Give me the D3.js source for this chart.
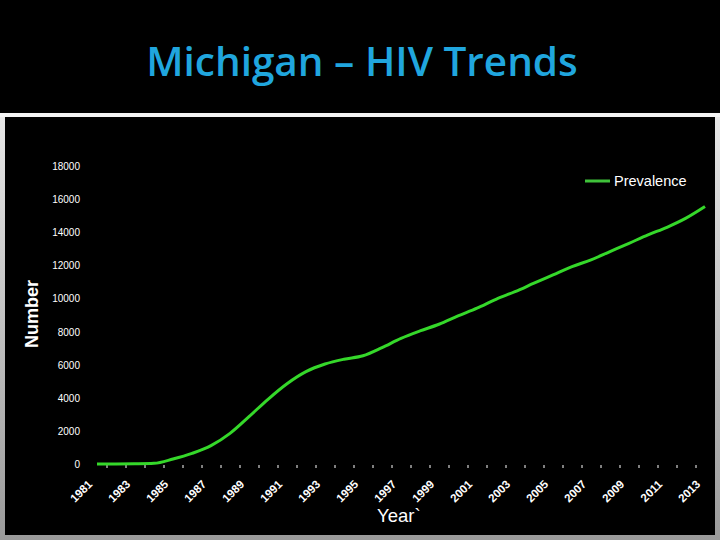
<!DOCTYPE html>
<html><head><meta charset="utf-8">
<script src="https://cdn.jsdelivr.net/npm/d3@7/dist/d3.min.js"></script>
<style>html,body{margin:0;padding:0;background:#000;}svg{display:block;}</style>
</head><body>
<svg id="c" width="720" height="540"></svg>
<script>
const title = "Michigan – HIV Trends";
const years = d3.range(1981, 2014);
const prevalence = [0, 0, 10, 40, 300, 640, 1110, 1850, 2860, 3910, 4850, 5580, 6040, 6330, 6540, 7030, 7590, 8040, 8440, 8940, 9410, 9950, 10410, 10920, 11420, 11920, 12330, 12830, 13330, 13840, 14300, 14850, 15550];
const yTicks = [0, 2000, 4000, 6000, 8000, 10000, 12000, 14000, 16000, 18000];
const xLabels = d3.range(1981, 2014, 2);
const seriesName = "Prevalence";
const yTitle = "Number";
const xTitle = "Year`";

const svg = d3.select("#c");
const defs = svg.append("defs");
const g1 = defs.append("linearGradient").attr("id","frame").attr("x1",0).attr("y1",0).attr("x2",0).attr("y2",1);
g1.append("stop").attr("offset","0%").attr("stop-color","#e8e8e8");
g1.append("stop").attr("offset","100%").attr("stop-color","#9a9a9a");

svg.append("rect").attr("x",0).attr("y",0).attr("width",720).attr("height",540).attr("fill","#000");
svg.append("text").attr("x",362).attr("y",76).attr("text-anchor","middle")
  .attr("font-family","'Open Sans', sans-serif").attr("font-weight",600).attr("font-size",40.5)
  .attr("fill","#20a6de").text(title);

// frame
svg.append("rect").attr("x",0).attr("y",113).attr("width",720).attr("height",427).attr("fill","url(#frame)");
svg.append("rect").attr("x",0).attr("y",113).attr("width",720).attr("height",4).attr("fill","#f4f4f4");
svg.append("rect").attr("x",5).attr("y",117).attr("width",710).attr("height",418).attr("fill","#000");

const x = d3.scaleLinear().domain([1981, 2013]).range([97, 705]);
const y = d3.scaleLinear().domain([0, 18000]).range([464, 166]);

// y axis labels
const yAxis = d3.axisLeft(y).tickValues(yTicks).tickSize(0).tickPadding(0).tickFormat(d3.format("d"));
const ya = svg.append("g").attr("transform","translate(80,0)").call(yAxis);
ya.select(".domain").remove();
ya.selectAll("text").attr("fill","#fff").attr("font-family","Arial, 'Liberation Sans', sans-serif").attr("font-size",10).attr("dy","0.35em");

// x axis ticks between categories
const xb = d3.range(1981.5, 2013, 1);
const xAxis = d3.axisBottom(x).tickValues(xb).tickSize(3).tickFormat("");
const xa = svg.append("g").attr("transform","translate(0,465)").call(xAxis);
xa.select(".domain").remove();
xa.selectAll("line").attr("stroke","#fff").attr("stroke-width",1);

svg.append("g").selectAll("text").data(xLabels).join("text")
  .attr("transform", d => `translate(${x(d)-4},485) rotate(-45)`)
  .attr("text-anchor","end")
  .attr("font-family","Arial, 'Liberation Sans', sans-serif").attr("font-size",11.5).attr("font-weight","bold")
  .attr("fill","#fff").text(d => d);

// line
const line = d3.line().x((d,i)=>x(years[i])).y(d=>y(d)).curve(d3.curveMonotoneX);
svg.append("path").datum(prevalence).attr("d", line).attr("fill","none")
  .attr("stroke","#35d82a").attr("stroke-width",3).attr("stroke-linejoin","round");

// legend
svg.append("line").attr("x1",585).attr("x2",610).attr("y1",181).attr("y2",181).attr("stroke","#3fc23a").attr("stroke-width",3);
svg.append("text").attr("x",614).attr("y",186).attr("fill","#fff")
  .attr("font-family","Arial, 'Liberation Sans', sans-serif").attr("font-size",14.5).text(seriesName);

// titles
svg.append("text").attr("transform","translate(38,314) rotate(-90)").attr("text-anchor","middle")
  .attr("font-family","Arial, 'Liberation Sans', sans-serif").attr("font-weight","bold").attr("font-size",18)
  .attr("fill","#fff").text(yTitle);
svg.append("text").attr("x",377).attr("y",522)
  .attr("font-family","Arial, 'Liberation Sans', sans-serif").attr("font-size",18.5)
  .attr("fill","#fff").text(xTitle);
</script>
</body></html>
